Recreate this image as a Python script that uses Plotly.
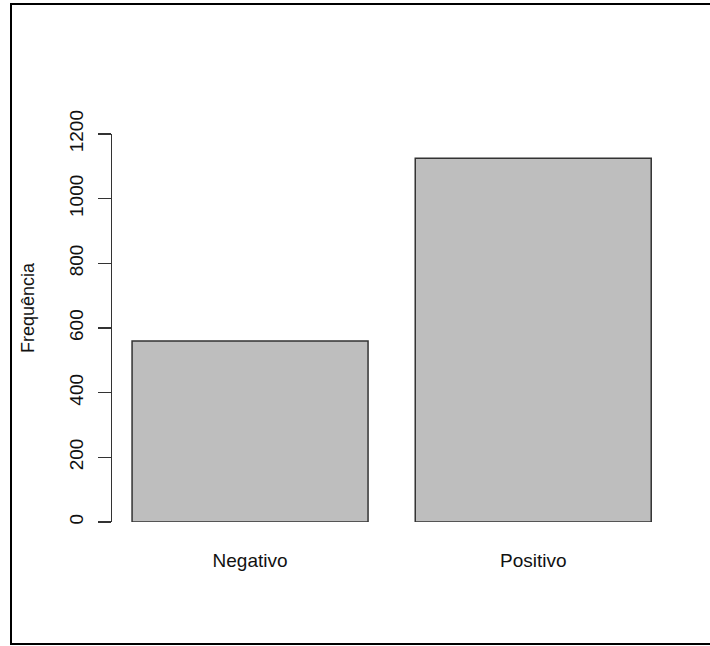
import plotly.graph_objects as go

categories = ["Negativo", "Positivo"]
values = [560, 1125]
bar_centers = [0.7, 1.9]
y_ticks = [0, 200, 400, 600, 800, 1000, 1200]

W, H = 710, 646
L, R, T, B = 112, 38, 134, 124
pw, ph = W - L - R, H - T - B

def px_x(p):
    return (p - L) / pw

def px_y(p):
    return (H - B - p) / ph

FONT = "Liberation Sans, Arial, sans-serif"

fig = go.Figure(go.Bar(
    x=bar_centers, y=values, width=1.0,
    marker=dict(color="#BEBEBE", line=dict(color="#333333", width=1.5)),
    hoverinfo="skip",
))

fig.update_layout(
    width=W, height=H,
    margin=dict(l=L, r=R, t=T, b=B),
    paper_bgcolor="white", plot_bgcolor="white",
    showlegend=False,
    font=dict(family=FONT, size=19, color="#111111"),
    xaxis=dict(range=[0.115, 2.488], tickvals=bar_centers, ticktext=categories,
               ticks="", showline=False, showgrid=False, zeroline=False,
               ticklabelstandoff=25, tickfont=dict(size=19)),
    yaxis=dict(range=[0, 1200], tickvals=y_ticks, ticktext=[str(v) for v in y_ticks],
               ticks="outside", ticklen=13, tickwidth=1.5, tickcolor="#333333",
               showline=True, linecolor="#333333", linewidth=1.5,
               showgrid=False, zeroline=False, tickangle=-90,
               ticklabelstandoff=7, tickfont=dict(size=19)),
    shapes=[dict(type="rect", xref="paper", yref="paper",
                 x0=px_x(11), x1=px_x(714), y0=px_y(644), y1=px_y(4),
                 line=dict(color="black", width=2), fillcolor="rgba(0,0,0,0)",
                 layer="below")],
    annotations=[dict(text="Frequência", xref="paper", yref="paper",
                      x=px_x(28), y=px_y(308), showarrow=False, textangle=-90,
                      font=dict(family=FONT, size=18, color="#111111"),
                      xanchor="center", yanchor="middle")],
)

fig.write_html("out.html",
               config={"displayModeBar": False, "staticPlot": True},
               post_script="document.body.style.margin='0';document.body.style.overflow='hidden';")
